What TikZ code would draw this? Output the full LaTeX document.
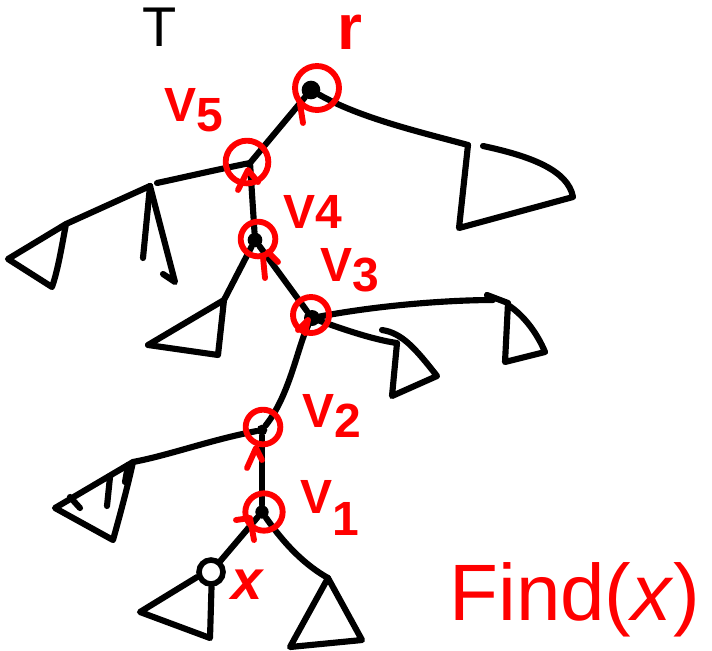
\documentclass[tikz,border=0pt]{standalone}
\usepackage{fontspec}
\setmainfont{Liberation Sans}
\begin{document}
\begin{tikzpicture}[x=0.75pt,y=-0.75pt,
  edge/.style={line width=4.6pt,line cap=round,line join=round},
  hl/.style={draw=red,line width=4.4pt,line cap=round,line join=round},
  dot/.style={circle,fill=black,inner sep=0pt},
  lab/.style={text=red,inner sep=0pt,font=\bfseries\fontsize{36}{36}\selectfont}]
\useasboundingbox (0,0) rectangle (712,650);

% tree nodes
\node[dot,minimum size=14pt] (r)  at (311,90) {};
\coordinate (v5) at (250,163);
\node[dot,minimum size=11pt] (v4) at (255,240) {};
\node[dot,minimum size=12pt] (v3) at (312,318) {};
\node[dot,minimum size=8pt]  (v2) at (262,430) {};
\node[dot,minimum size=10pt] (v1) at (262,512) {};
\node[circle,draw,line width=4.2pt,minimum size=18pt,inner sep=0pt] (x) at (211,572) {};

% junction / subtree corners
\coordinate (tR) at (468,145);
\coordinate (a5) at (150,186);
\coordinate (l5) at (66,224);
\coordinate (l4) at (224,300);
\coordinate (r3) at (493,300);
\coordinate (m3) at (397,343);
\coordinate (l2) at (133,462);
\coordinate (r1) at (328,578);

% edges
\draw[edge] (r) -- (v5);
\draw[edge] (r) .. controls (360,118) and (420,132) .. (tR);
\draw[edge] (tR) -- (459,228) -- (573,197) .. controls (568,170) and (530,156) .. (483,146);

\draw[edge] (v5) .. controls (215,170) and (185,177) .. (157,183);
\draw[edge] (a5) -- (l5) -- (8,259) -- (52,287) .. controls (58,270) and (62,245) .. (l5);
\draw[edge] (a5) -- (143,258);
\draw[edge] (a5) -- (175,282) -- (163,274);

\draw[edge] (v5) -- (v4);
\draw[edge] (v4) -- (l4) -- (148,345) -- (218,355) -- (l4);

\draw[edge] (v4) -- (v3);
\draw[edge] (v3) .. controls (380,305) and (450,300) .. (r3);
\draw[edge] (487,295) -- (508,303) -- (505,362) -- (545,352) .. controls (538,335) and (525,316) .. (508,305);
\draw[edge] (v3) .. controls (345,330) and (375,340) .. (m3) -- (392,396) -- (437,376) .. controls (415,348) and (402,333) .. (382,330);

\draw[edge] (v3) .. controls (298,345) and (290,395) .. (v2);
\draw[edge] (v2) .. controls (210,440) and (170,455) .. (l2);
\draw[edge] (l2) -- (55,508) -- (113,540) .. controls (120,515) and (128,485) .. (l2);
\draw[edge] (70,497) -- (80,508);
\draw[edge] (110,477) -- (107,506);
\draw[edge] (128,465) -- (125,482);

\draw[edge] (v2) -- (v1);
\draw[edge] (v1) -- (x);
\draw[edge] (x.200) -- (140,612) -- (210,638) -- (x.272);
\draw[edge] (v1) .. controls (285,545) and (305,565) .. (r1);
\draw[edge] (r1) -- (290,647) -- (362,640) -- (r1);

% red highlight circles and ticks
\draw[hl] (317,88) circle (16.5pt);
\draw[hl] (300,104) -- (303,123);
\draw[hl] (247,162) circle (16pt);
\draw[hl] (238,190) -- (248,170) -- (258,182);
\draw[hl] (258,239) circle (13pt);
\draw[hl] (263,257) -- (265,278);
\draw[hl] (268,252) -- (278,262);
\draw[hl] (311,315) circle (13.5pt);
\draw[hl] (298,330) -- (308,320) -- (305,333);
\draw[hl] (263,427) circle (13pt);
\draw[hl] (247,468) -- (256,448) -- (262,460);
\draw[hl] (264,512) circle (14pt);
\draw[hl] (236,520) -- (250,518) -- (254,540);

% labels
\node[text=black,inner sep=0pt,font=\fontsize{42}{42}\selectfont] (T) at (160,27) {T};
\node[lab,font=\bfseries\fontsize{48}{48}\selectfont] (rl) at (350,32) {r};
\node[lab] (l5t) at (194,110) {V\raisebox{-0.2em}{5}};
\node[lab] (l4t) at (313,212) {V4};
\node[lab] (l3t) at (350,270) {V\raisebox{-0.2em}{3}};
\node[lab] (l2t) at (332,416) {V\raisebox{-0.2em}{2}};
\node[lab] (l1t) at (330,508) {V\raisebox{-0.45em}{1}};
\node[lab,font=\bfseries\fontsize{42}{42}\selectfont] (xl) at (248,585) {\textit{x}};
\node[lab,font=\fontsize{60}{60}\selectfont] (find) at (575,600) {Find(\textit{x})};
\end{tikzpicture}
\end{document}
